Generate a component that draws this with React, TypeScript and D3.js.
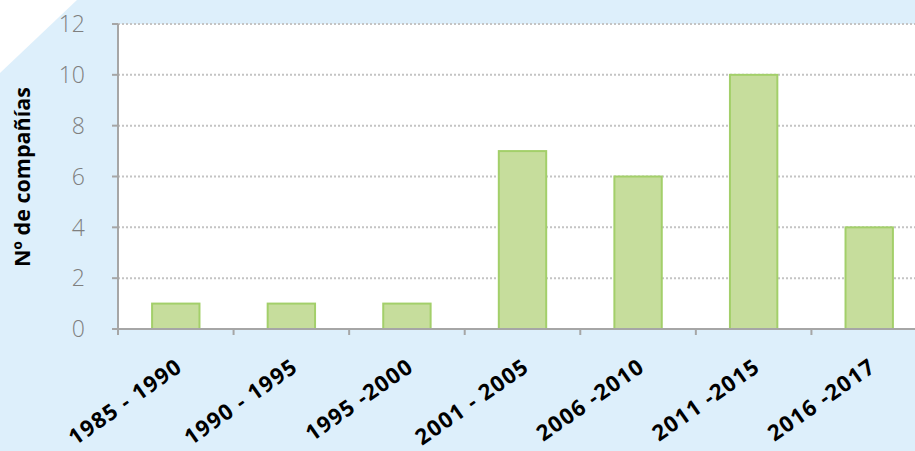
import React from "react";
import * as d3 from "d3";

const categories = ["1985 - 1990", "1990 - 1995", "1995 -2000", "2001 - 2005", "2006 -2010", "2011 -2015", "2016 -2017"];
const values = [1, 1, 1, 7, 6, 10, 4];
const yTicks = [0, 2, 4, 6, 8, 10, 12];
const yTitle = "Nº de compañías";

const W = 915, H = 451;
const left = 118, top = 24, bottom = 329, right = 927;

export default function App() {
  const x = d3.scaleBand<string>().domain(categories).range([left, right]).paddingInner(0.59).paddingOuter(0.295);
  const xb = d3.scaleBand<string>().domain(categories).range([left, right]);
  const y = d3.scaleLinear().domain([0, 12]).range([bottom, top]);
  return (
    <svg width={W} height={H} style={{ position: "absolute", left: 0, top: 0 }}>
      <rect x={0} y={0} width={W} height={H} fill="#DDEFFB" />
      <polygon points="0,0 77,0 0,73" fill="#FFFFFF" />
      <rect x={left} y={top} width={W - left} height={bottom - top} fill="#FFFFFF" />
      {yTicks.filter(t => t > 0).map(t => (
        <line key={t} x1={left} x2={W} y1={y(t)} y2={y(t)} stroke="#C4C4C4" strokeWidth={2} strokeDasharray="2,2" />
      ))}
      {categories.map((c, i) => (
        <rect key={c} x={x(c)!} y={y(values[i])} width={x.bandwidth()} height={y(0) - y(values[i])}
          fill="#C6DD9C" stroke="#A3CF6A" strokeWidth={2} />
      ))}
      <line x1={left} x2={left} y1={top} y2={bottom} stroke="#A6A6A6" strokeWidth={2} />
      <line x1={left - 6} x2={W} y1={bottom} y2={bottom} stroke="#A6A6A6" strokeWidth={2} />
      {yTicks.map(t => (
        <g key={t}>
          <line x1={left - 6} x2={left} y1={y(t)} y2={y(t)} stroke="#A6A6A6" strokeWidth={2} />
          <text x={85} y={y(t)} dy="0.36em" textAnchor="end" fontFamily="Open Sans" fontWeight={300} fontSize={23} fill="#7F7F7F">{t}</text>
        </g>
      ))}
      {categories.map(c => (
        <line key={c} x1={xb(c)!} x2={xb(c)!} y1={bottom} y2={bottom + 6} stroke="#A6A6A6" strokeWidth={2} />
      ))}
      {categories.map(c => {
        const cx = x(c)! + x.bandwidth() / 2 + 8;
        const cy = 370;
        return (
          <text key={c} x={cx} y={cy} textAnchor="end" transform={`rotate(-35 ${cx} ${cy})`}
            fontFamily="Open Sans" fontWeight={700} fontSize={22} letterSpacing={1.2} fill="#000000">{c}</text>
        );
      })}
      <text x={0} y={0} transform={`translate(30 ${177}) rotate(-90)`} textAnchor="middle"
        fontFamily="Open Sans" fontWeight={700} fontSize={21.5} fill="#000000">{yTitle}</text>
    </svg>
  );
}
